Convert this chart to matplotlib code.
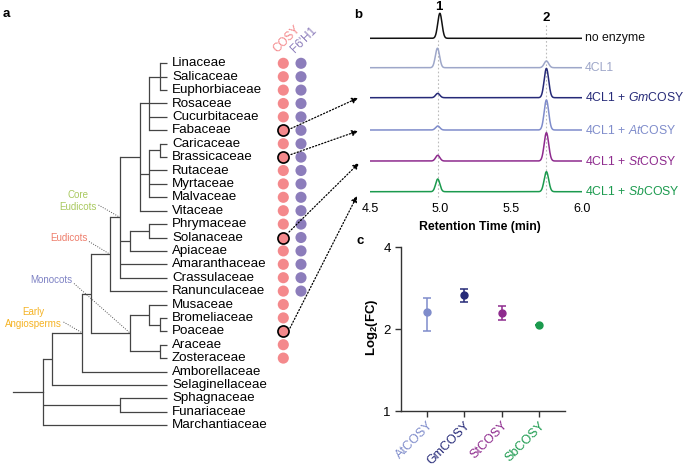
import numpy as np
import matplotlib
matplotlib.use("Agg")
import matplotlib.pyplot as plt

plt.rcParams['font.family'] = ['Liberation Sans', 'DejaVu Sans']
plt.rcParams['mathtext.fontset'] = 'custom'
plt.rcParams['mathtext.rm'] = 'Liberation Sans'
plt.rcParams['mathtext.it'] = 'Liberation Sans:italic'
plt.rcParams['mathtext.bf'] = 'Liberation Sans:bold'

# ---- panel a data ----
families = ["Linaceae", "Salicaceae", "Euphorbiaceae", "Rosaceae", "Cucurbitaceae",
            "Fabaceae", "Caricaceae", "Brassicaceae", "Rutaceae", "Myrtaceae",
            "Malvaceae", "Vitaceae", "Phrymaceae", "Solanaceae", "Apiaceae",
            "Amaranthaceae", "Crassulaceae", "Ranunculaceae", "Musaceae",
            "Bromeliaceae", "Poaceae", "Araceae", "Zosteraceae", "Amborellaceae",
            "Selaginellaceae", "Sphagnaceae", "Funariaceae", "Marchantiaceae"]
has_cosy = [1] * 23 + [0] * 5
has_f6h1 = [1] * 18 + [0] * 10
tested = ["Fabaceae", "Brassicaceae", "Solanaceae", "Poaceae"]

# ---- panel b data ----
traces = ["no enzyme", "4CL1", r"4CL1 + $\mathit{Gm}$COSY", r"4CL1 + $\mathit{At}$COSY",
          r"4CL1 + $\mathit{St}$COSY", r"4CL1 + $\mathit{Sb}$COSY"]
rt_peak1 = [4.995, 4.978, 4.98, 4.98, 4.98, 4.98]
rt_peak2 = 5.75
height_peak1 = [25, 19.5, 4.3, 4.0, 5.7, 12.7]
height_peak2 = [0, 6.7, 29.3, 30, 28.3, 20]
trace_colors = ["#111111", "#9ea7c9", "#262a78", "#7f8ccb", "#8e2b8e", "#1b9a4e"]

# ---- panel c data ----
enzymes = ["AtCOSY", "GmCOSY", "StCOSY", "SbCOSY"]
fc_mean = [2.30, 2.67, 2.29, 2.07]
fc_low = [1.97, 2.52, 2.15, 2.07]
fc_high = [2.60, 2.80, 2.43, 2.07]
enz_colors = ["#7f8ccb", "#262a78", "#8e2b8e", "#1b9a4e"]

fig = plt.figure(figsize=(6.85, 4.65), dpi=100)
bg = fig.add_axes([0, 0, 1, 1])
bg.set_xlim(0, 685)
bg.set_ylim(465, 0)
bg.axis("off")

# tree (pixel layout)
y0, dy = 63.3, 13.4
tip_x = 167
row_y = {i: y0 + i * dy for i in range(len(families))}
tree_col = "#444444"

A = (160, [0, 1, 2]); B = (149, [A, 3, 4, 5]); C = (160, [6, 7])
D = (149, [C, 8, 9, 10]); E = (140, [B, D, 11]); F = (149, [12, 13])
G = (130, [F, 14]); H = (120, [E, G, 15, 16]); I = (110, [H, 17])
J = (160, [19, 20]); K = (149, [18, J]); L = (160, [21, 22])
M = (130, [K, L]); N = (91, [I, M]); O = (81.7, [N, 23])
P = (52.3, [O, 24]); Q = (120, [25, 26]); R = (42.7, [P, Q, 27])


def draw(node):
    if isinstance(node, int):
        return row_y[node], tip_x
    x, kids = node
    ys = []
    for k in kids:
        yk, xk = draw(k)
        bg.plot([x, xk], [yk, yk], color=tree_col, lw=0.9, solid_capstyle="butt")
        ys.append(yk)
    bg.plot([x, x], [ys[0], ys[-1]], color=tree_col, lw=0.9)
    ym = (ys[0] + ys[-1]) / 2
    node_pos[id(node)] = (x, ym)
    return ym, x


node_pos = {}
ry, rx = draw(R)
bg.plot([13.3, rx], [ry, ry], color=tree_col, lw=0.9)

for i, fam in enumerate(families):
    bg.text(172, row_y[i], fam, fontsize=9.6, va="center", ha="left")

cosy_col = "#f4898c"
f6_col = "#8c7dbb"
for i, fam in enumerate(families):
    if has_cosy[i]:
        ec = "k" if fam in tested else "none"
        bg.scatter(283.3, row_y[i], s=64, color=cosy_col, edgecolors=ec, linewidths=1.2, zorder=3)
    if has_f6h1[i]:
        bg.scatter(301, row_y[i], s=64, color=f6_col, edgecolors="none", zorder=3)
bg.text(279, 55, "COSY", color=cosy_col, fontsize=8.5, rotation=45, rotation_mode="anchor",
        ha="left", va="bottom")
bg.text(297, 55, "F6'H1", color=f6_col, fontsize=8.5, rotation=45, rotation_mode="anchor",
        ha="left", va="bottom")

# clade labels
clades = [("Core\nEudicots", "#a9c95f", 97, 201, H),
          ("Eudicots", "#ee7d6b", 87.5, 237.5, I),
          ("Monocots", "#7e82c4", 72.5, 279.5, M),
          ("Early\nAngiosperms", "#f5b324", 62, 318, O)]
for lab, col, tx, ty, nd in clades:
    bg.text(tx, ty, lab, color=col, fontsize=7, ha="right", va="center", multialignment="center",
            linespacing=1.25)
    nx, ny = node_pos[id(nd)]
    bg.plot([tx + 1.5, nx], [ty + 4, ny], color="#555555", lw=0.7, ls=(0, (1, 1.5)))

# arrows from tested families to traces
arrow_starts = [(291, 128.5), (291, 154.5), (289, 232), (290, 328)]
arrow_ends = [(358, 98), (358, 131), (359, 163), (357, 196)]
for (sx, sy), (ex, ey) in zip(arrow_starts, arrow_ends):
    bg.annotate("", xy=(ex, ey), xytext=(sx, sy),
                arrowprops=dict(arrowstyle="-|>", color="k", lw=0.9, ls=(0, (1, 1.6)),
                                mutation_scale=9, shrinkA=0, shrinkB=0))

# ---- panel b ----
axb = fig.add_axes([370 / 685, (465 - 200) / 465, 211.7 / 685, 200 / 465])
axb.patch.set_alpha(0)
axb.set_xlim(4.5, 6.0)
axb.set_ylim(0, 200)
for s in axb.spines.values():
    s.set_visible(False)
axb.set_yticks([])
axb.set_xticks([4.5, 5.0, 5.5, 6.0])
axb.set_xticklabels(["4.5", "5.0", "5.5", "6.0"], fontsize=9)
axb.tick_params(axis="x", length=0, pad=2)

rt = np.linspace(4.5, 6.0, 800)
base_px = [38.3, 67.7, 97.7, 130, 161, 191.7]
for i in range(len(traces)):
    base = 200 - base_px[i]
    sig = base + height_peak1[i] * np.exp(-(rt - rt_peak1[i]) ** 2 / (2 * 0.015 ** 2)) \
        + height_peak2[i] * np.exp(-(rt - rt_peak2) ** 2 / (2 * 0.016 ** 2))
    axb.plot(rt, sig, color=trace_colors[i], lw=1.1, zorder=3)
    bg.text(585, base_px[i], traces[i], color=trace_colors[i], fontsize=8.8, ha="left", va="center")

axb.plot([4.98, 4.98], [200 - 40, 200 - 197], color="#bbbbbb", lw=0.8, ls=(0, (1.5, 2)), zorder=1)
axb.plot([rt_peak2, rt_peak2], [200 - 25, 200 - 197], color="#bbbbbb", lw=0.8, ls=(0, (1.5, 2)), zorder=1)
axb.text(4.99, 200 - 7, "1", fontsize=9.5, fontweight="bold", ha="center", va="center")
axb.text(rt_peak2, 200 - 18, "2", fontsize=9.5, fontweight="bold", ha="center", va="center")
bg.text(480, 227, "Retention Time (min)", fontsize=8.8, fontweight="bold", ha="center", va="center")

# ---- panel c ----
axc = fig.add_axes([401 / 685, (465 - 411) / 465, 164 / 685, 164 / 465])
axc.patch.set_alpha(0)
axc.set_yscale("log", base=2)
axc.set_ylim(1, 4)
axc.set_yticks([1, 2, 4])
axc.set_yticklabels(["1", "2", "4"], fontsize=9.5)
axc.yaxis.set_minor_locator(matplotlib.ticker.NullLocator())
axc.set_xlim(-0.685, 3.685)
xs = np.arange(len(enzymes))
for i in range(len(enzymes)):
    err = [[fc_mean[i] - fc_low[i]], [fc_high[i] - fc_mean[i]]]
    axc.errorbar(xs[i], fc_mean[i], yerr=err, fmt="o", color=enz_colors[i], ms=5,
                 capsize=3, elinewidth=1.1, capthick=1.1)
axc.set_xticks(xs)
axc.set_xticklabels(enzymes, rotation=45, ha="right", rotation_mode="anchor", fontsize=9)
for lab, col in zip(axc.get_xticklabels(), enz_colors):
    lab.set_color(col)
for s in ["top", "right"]:
    axc.spines[s].set_visible(False)
for s in ["left", "bottom"]:
    axc.spines[s].set_linewidth(1)
    axc.spines[s].set_color("#333333")
axc.tick_params(axis="both", width=1, length=4, color="#333333")
axc.tick_params(axis="x", pad=2)
bg.text(371.7, 327, r"Log$_\mathbf{2}$(FC)", fontsize=9.5, fontweight="bold", rotation=90,
        ha="center", va="center")

# panel letters
bg.text(3, 14, "a", fontsize=9.5, fontweight="bold", va="center")
bg.text(354, 15, "b", fontsize=9.5, fontweight="bold", va="center")
bg.text(357, 241, "c", fontsize=9.5, fontweight="bold", va="center")

fig.savefig("out.png", dpi=100)
